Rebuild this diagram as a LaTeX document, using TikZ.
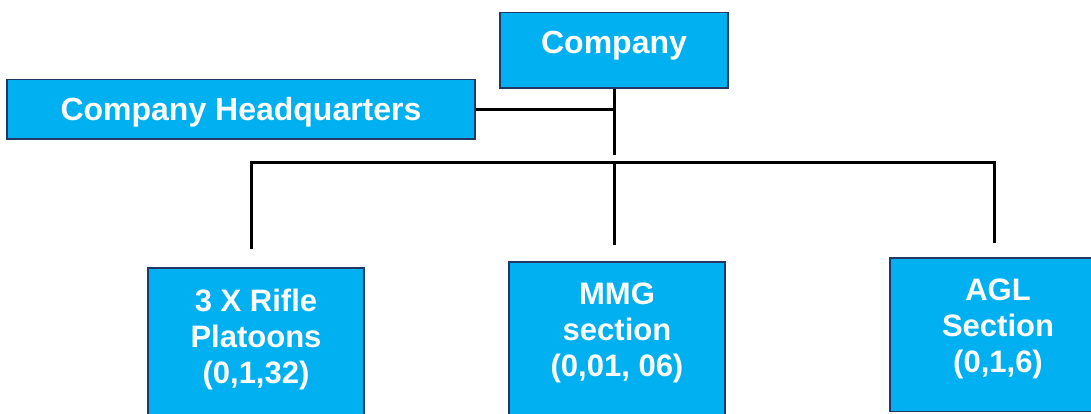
\documentclass[tikz,border=0pt]{standalone}
\usepackage{fontspec}
\setmainfont{Liberation Sans}
\usepackage{xcolor}
\definecolor{boxfill}{HTML}{00B0F0}
\definecolor{boxline}{HTML}{1F3864}

\begin{document}
\begin{tikzpicture}[
  x=1pt, y=-1pt,
  unit/.style={draw=boxline, fill=boxfill, line width=1.5pt, rectangle, anchor=north,
               align=center, text=white, font=\bfseries\fontsize{31}{36}\selectfont,
               minimum width=216pt, inner xsep=4pt, inner ysep=21pt},
  head/.style={unit, font=\bfseries\fontsize{32}{38}\selectfont, inner ysep=18pt},
  link/.style={draw=black, line width=3pt}
]
\useasboundingbox (0,0) rectangle (1091,414);
\clip (0,0) rectangle (1091,414);

\node[head, minimum width=228pt, text depth=17pt] (company) at (614,12) {Company};
\node[head, minimum width=468pt, text depth=0pt] (hq) at (241,79) {Company Headquarters};

\node[unit, text depth=80pt] (rifle) at (256,267) {3 X Rifle \\ Platoons \\ (0,1,32)};
\node[unit, text depth=80pt] (mmg) at (617,261) {MMG \\ section \\ (0,01, 06)};
\node[unit, text depth=18pt] (agl) at (998,257) {AGL \\ Section \\ (0,1,6)};

\coordinate (bus) at (0,163);
\draw[link, shorten >=8pt] (company.south) -- (company.south |- bus);
\draw[link] (hq.east) -- (hq.east -| company.south);
\draw[link] ([xshift=-5pt, yshift=18pt]rifle.north) -- ([xshift=-5pt]rifle.north |- bus)
  -- ([xshift=-4pt]agl.north |- bus) -- ([xshift=-4pt, yshift=14pt]agl.north);
\draw[link] ([xshift=-3pt]mmg.north |- bus) -- ([xshift=-3pt, yshift=16pt]mmg.north);
\end{tikzpicture}
\end{document}
